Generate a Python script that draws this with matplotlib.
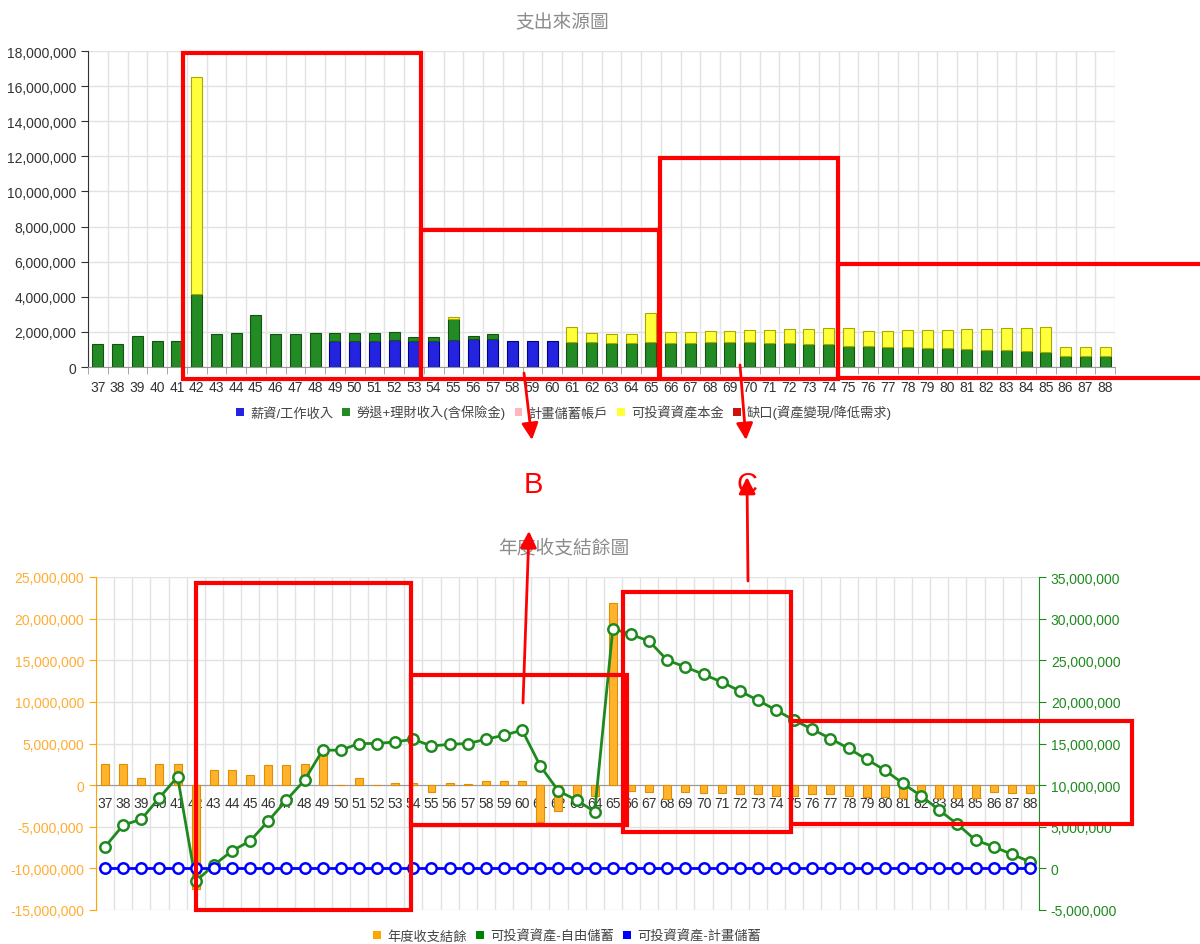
import numpy as np
import matplotlib.pyplot as plt
from matplotlib.patches import Patch, Rectangle, FancyArrowPatch
from matplotlib.ticker import FuncFormatter

plt.rcParams['font.family'] = ['Liberation Sans', 'Noto Sans CJK TC', 'DejaVu Sans']

M = 1_000_000
ages = list(range(37, 89))

# 支出來源 (百萬)
salary = [0] * 12 + [1.46, 1.46, 1.46, 1.53, 1.50, 1.50, 1.55, 1.60, 1.60, 1.48, 1.48, 1.48] + [0] * 28
pension = [1.30, 1.30, 1.78, 1.48, 1.48, 4.17, 1.86, 1.94, 2.94, 1.86, 1.86, 1.94,
           0.48, 0.48, 0.48, 0.45, 0.20, 0.20, 1.21, 0.14, 0.27, 0, 0, 0,
           1.40, 1.40, 1.35, 1.35, 1.42, 1.35, 1.35, 1.42, 1.42, 1.42, 1.35, 1.35, 1.29, 1.29,
           1.21, 1.21, 1.16, 1.16, 1.10, 1.10, 1.04, 0.99, 0.99, 0.91, 0.85, 0.65, 0.65, 0.65]
planned_acct = [0] * 52
principal = [0, 0, 0, 0, 0, 12.33] + [0] * 12 + [0.08] + [0] * 5 + \
            [0.88, 0.52, 0.55, 0.55, 1.63, 0.62, 0.62, 0.61, 0.61, 0.67, 0.74, 0.79, 0.85, 0.91,
             0.99, 0.82, 0.87, 0.93, 0.99, 0.99, 1.10, 1.15, 1.21, 1.29, 1.43, 0.47, 0.47, 0.47]
shortfall = [0] * 52

# 年度收支結餘 (百萬)
balance = [2.5, 2.5, 0.8, 2.5, 2.5, -12.5, 1.85, 1.85, 1.2, 2.4, 2.4, 2.5, 3.65, 0.05, 0.8, 0.05,
           0.28, 0.28, -0.88, 0.28, 0.16, 0.52, 0.52, 0.52, -4.4, -3.1, -1.28, -1.28, 21.9,
           -0.76, -0.88, -1.68, -0.88, -1.0, -1.0, -1.12, -1.12, -1.28, -1.28, -1.12, -1.12,
           -1.28, -1.48, -1.48, -1.6, -1.6, -1.6, -1.6, -1.6, -0.88, -1.0, -1.0]
free_savings = [2.6, 5.2, 5.9, 8.5, 11.0, -1.56, 0.4, 2.1, 3.3, 5.7, 8.2, 10.6, 14.2, 14.2,
                15.0, 15.0, 15.2, 15.5, 14.7, 14.9, 15.0, 15.5, 16.0, 16.6, 12.3, 9.3, 8.2, 6.8,
                28.8, 28.1, 27.3, 25.0, 24.2, 23.3, 22.4, 21.3, 20.2, 19.0, 17.8, 16.7, 15.6,
                14.4, 13.1, 11.8, 10.2, 8.7, 7.0, 5.3, 3.4, 2.6, 1.7, 0.8]
planned_savings = [0] * 52

W, H = 1200, 945
fig = plt.figure(figsize=(W / 100, H / 100), dpi=100)


def px_rect(l, t, r, b):
    return [l / W, 1 - b / H, (r - l) / W, (b - t) / H]


def px(x, y):
    return (x / W, 1 - y / H)


comma = FuncFormatter(lambda v, p: f'{v:,.0f}')
x = np.arange(len(ages))
grid_c = '#e2e2e2'

# ---- 支出來源圖 ----
ax = fig.add_axes(px_rect(88, 52, 1115, 368))
top_series = [
    (salary, '#2424E0', '#00008B', '薪資/工作收入'),
    (pension, '#238B23', '#145214', '勞退+理財收入(含保險金)'),
    (planned_acct, '#FFB6C1', '#E090A0', '計畫儲蓄帳戶'),
    (principal, '#FFFF3A', '#A8A800', '可投資資產本金'),
    (shortfall, '#CC1111', '#880000', '缺口(資產變現/降低需求)'),
]
bottom = np.zeros(len(ages))
for vals, color, edge, label in top_series:
    v = np.array(vals) * M
    m = v > 0
    ax.bar(x[m], v[m], 0.56, bottom=bottom[m], color=color, edgecolor=edge, linewidth=0.8, zorder=3)
    bottom += v

ax.set_xlim(-0.5, len(ages) - 0.5)
ax.set_ylim(0, 18 * M)
ax.set_yticks(np.arange(0, 18.1, 2) * M)
ax.yaxis.set_major_formatter(comma)
ax.set_xticks(x)
ax.set_xticklabels([str(a) for a in ages])
ax.set_xticks(np.arange(-0.5, len(ages), 1), minor=True)
ax.set_axisbelow(True)
ax.grid(axis='y', which='major', color=grid_c, lw=1)
ax.grid(axis='x', which='minor', color=grid_c, lw=1)
ax.tick_params(axis='x', which='major', length=0, pad=9, labelsize=10, labelcolor='#333333')
ax.tick_params(axis='x', which='minor', length=5, color='#999999')
ax.tick_params(axis='y', length=5, color='#333333', labelsize=10, labelcolor='#333333')
for s in ('top', 'right'):
    ax.spines[s].set_visible(False)
ax.spines['left'].set_color('#333333')
ax.spines['bottom'].set_color('#999999')

fig.text(*px(562, 22), '支出來源圖', fontsize=13.5, color='#8c8c8c', ha='center', va='center')
fig.legend([Patch(facecolor=c, edgecolor='none') for _, c, _, _ in top_series],
           [lab for _, _, _, lab in top_series],
           loc='center', bbox_to_anchor=px(564, 413), ncol=5, frameon=False,
           handlelength=0.6, handleheight=0.6, handletextpad=0.45, columnspacing=0.7,
           fontsize=9.5, labelcolor='#444444')

# ---- 年度收支結餘圖 ----
ax1 = fig.add_axes(px_rect(96, 578, 1039, 911))
ax1.bar(x, np.array(balance) * M, 0.44, color='#FFB22C', edgecolor='#E08E00', linewidth=0.8, zorder=3)
ax1.set_xlim(-0.5, len(ages) - 0.5)
ax1.set_ylim(-15 * M, 25 * M)
ax1.set_yticks(np.arange(-15, 25.1, 5) * M)
ax1.yaxis.set_major_formatter(comma)
ax1.set_xticks(x)
ax1.set_xticklabels([str(a) for a in ages])
ax1.set_xticks(np.arange(-0.5, len(ages), 1), minor=True)
ax1.set_axisbelow(True)
ax1.grid(axis='y', which='major', color=grid_c, lw=1)
ax1.grid(axis='x', which='minor', color=grid_c, lw=1)
ax1.tick_params(axis='x', which='both', length=0, pad=8, labelsize=10, labelcolor='#333333')
ax1.tick_params(axis='y', length=5, color='#FFA500', labelsize=10, labelcolor='#FFAD33')
ax1.spines['bottom'].set_position(('data', 0))
ax1.spines['bottom'].set_color('#999999')
ax1.spines['left'].set_color('#FFA500')
for s in ('top', 'right'):
    ax1.spines[s].set_visible(False)

ax2 = ax1.twinx()
ax2.set_ylim(-5 * M, 35 * M)
ax2.set_yticks(np.arange(-5, 35.1, 5) * M)
ax2.yaxis.set_major_formatter(comma)
ax2.plot(x, np.array(free_savings) * M, color='#1E8A1E', lw=2, marker='o', ms=7.5,
         mfc='white', mec='#1E8A1E', mew=1.8, zorder=4)
ax2.plot(x, np.array(planned_savings) * M, color='#0000FF', lw=2, marker='o', ms=7.5,
         mfc='white', mec='#0000FF', mew=1.8, zorder=5)
ax2.tick_params(axis='y', length=5, color='#1E8A1E', labelsize=10, labelcolor='#1E8A1E')
ax2.spines['right'].set_color('#1E8A1E')
for s in ('top', 'left', 'bottom'):
    ax2.spines[s].set_visible(False)

fig.text(*px(564, 548), '年度收支結餘圖', fontsize=13.5, color='#8c8c8c', ha='center', va='center')
fig.legend([Patch(facecolor=c, edgecolor='none') for c in ('#FFA500', '#008000', '#0000FF')],
           ['年度收支結餘', '可投資資產-自由儲蓄', '可投資資產-計畫儲蓄'],
           loc='center', bbox_to_anchor=px(567, 937), ncol=3, frameon=False,
           handlelength=0.6, handleheight=0.6, handletextpad=0.45, columnspacing=0.7,
           fontsize=9.5, labelcolor='#444444')

# ---- 紅色標註 ----
boxes = [(183, 54, 421, 380), (421, 231, 659, 380), (660, 159, 838, 380), (838, 265, 1215, 379),
         (196, 584, 411, 911), (411, 676, 627, 826), (623, 593, 791, 833), (791, 722, 1132, 825)]
for l, t, r, b in boxes:
    fig.add_artist(Rectangle(px(l, b), (r - l) / W, (b - t) / H, transform=fig.transFigure,
                             fill=False, edgecolor='#FF0000', lw=3, zorder=10))

arrows = [((524, 374), (532, 441)), ((740, 366), (746, 441)),
          ((523, 704), (529, 532)), ((748, 582), (747, 478))]
for start, end in arrows:
    fig.add_artist(FancyArrowPatch(px(*start), px(*end), transform=fig.transFigure,
                                   arrowstyle='-|>,head_length=0.5,head_width=0.25',
                                   mutation_scale=20, color='#FF0000', lw=2,
                                   shrinkA=0, shrinkB=0, zorder=11))

fig.text(*px(533, 485), 'B', color='#FF0000', fontsize=21, ha='center', va='center')
fig.text(*px(747, 485), 'C', color='#FF0000', fontsize=21, ha='center', va='center')

fig.savefig('out.png', dpi=100)
